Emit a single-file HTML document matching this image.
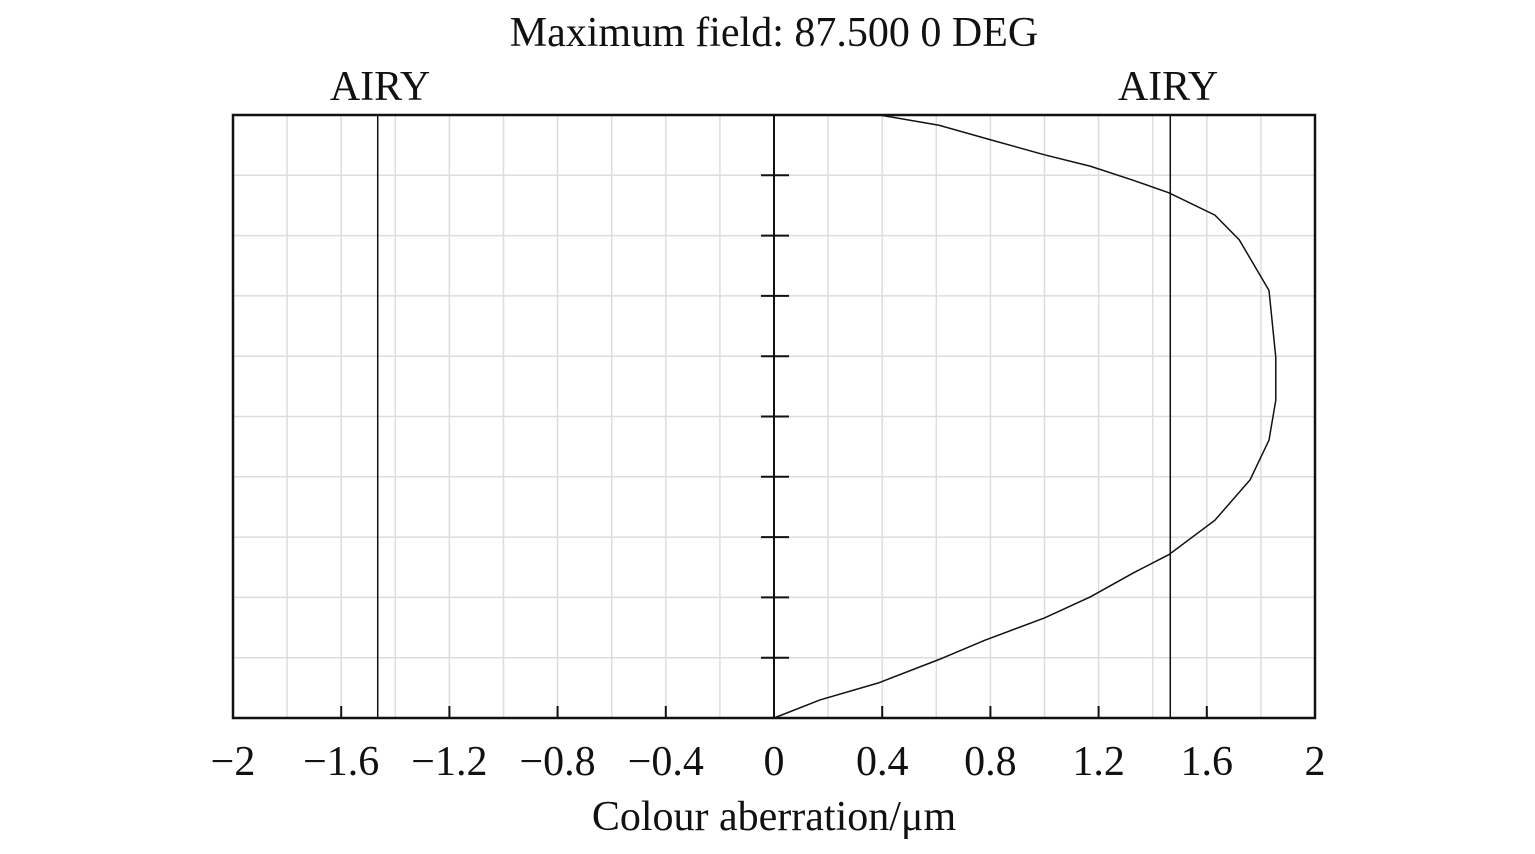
<!DOCTYPE html>
<html><head><meta charset="utf-8"><style>
body{margin:0;background:#fff;}
svg text{font-family:"Liberation Serif",serif;fill:#111;}
</style></head><body>
<svg width="1535" height="849">
<text x="774" y="46" font-size="42" text-anchor="middle">Maximum field: 87.500 0 DEG</text>
<text x="380" y="100" font-size="42" text-anchor="middle">AIRY</text>
<text x="1168" y="100" font-size="42" text-anchor="middle">AIRY</text>
<g id="grid"></g>
<g id="marks"></g>
<rect x="233" y="115" width="1082" height="603" fill="none" stroke="#111" stroke-width="2.5"/>
<g id="ticks"></g>
<text x="774" y="830" font-size="42" text-anchor="middle">Colour aberration/μm</text>
</svg>
<script>
const xTicks=[-2,-1.6,-1.2,-0.8,-0.4,0,0.4,0.8,1.2,1.6,2];
const xTickLabels=["−2","−1.6","−1.2","−0.8","−0.4","0","0.4","0.8","1.2","1.6","2"];
const airy=1.465;
const fieldFrac=[0,0.03,0.058,0.097,0.129,0.166,0.201,0.241,0.271,0.328,0.395,0.461,0.527,0.598,0.709,0.793,0.834,0.871,0.893,0.915,0.934,0.959,0.983,1.0];
const aberration=[0,0.17,0.385,0.61,0.78,1.0,1.17,1.33,1.46,1.63,1.76,1.83,1.855,1.855,1.83,1.72,1.63,1.46,1.32,1.17,1.0,0.8,0.61,0.39];
const X0=233,X1=1315,Y0=718,Y1=115;
const sx=v=>X0+(v+2)/4*(X1-X0);
const sy=f=>Y0-f*(Y0-Y1);
const NS="http://www.w3.org/2000/svg";
function mk(tag,attrs,parent){const e=document.createElementNS(NS,tag);for(const k in attrs)e.setAttribute(k,attrs[k]);document.getElementById(parent).appendChild(e);return e;}
for(let i=1;i<20;i++){const v=-2+i*0.2;const l=mk('line',{x1:sx(v),x2:sx(v),y1:Y1,y2:Y0,stroke:'#ddd','stroke-width':1.5},'grid');

}
for(let i=1;i<10;i++){const l=mk('line',{x1:X0,x2:X1,y1:sy(i/10),y2:sy(i/10),stroke:'#ddd','stroke-width':1.5},'grid');

}
const ax=mk('line',{x1:sx(0),x2:sx(0),y1:Y1,y2:Y0,stroke:'#111','stroke-width':2},'marks');


for(let i=1;i<10;i++){const t=mk('line',{x1:sx(0)-13,x2:sx(0)+15,y1:sy(i/10),y2:sy(i/10),stroke:'#111','stroke-width':2},'marks');

}
[-airy,airy].forEach(a=>{const l=mk('line',{x1:sx(a),x2:sx(a),y1:Y1,y2:Y0,stroke:'#111','stroke-width':1.5},'marks');

});
const p=mk('polyline',{points:fieldFrac.map((f,i)=>sx(aberration[i])+','+sy(f)).join(' '),fill:'none',stroke:'#111','stroke-width':1.5},'marks');


xTicks.forEach((v,i)=>{
 if(i>0&&i<xTicks.length-1){const t=mk('line',{x1:sx(v),x2:sx(v),y1:Y0,y2:Y0-12,stroke:'#111','stroke-width':2},'ticks');
 
 }
 const tx=mk('text',{x:sx(v),y:775,'font-size':42,'text-anchor':'middle'},'ticks');tx.textContent=xTickLabels[i];
 
 
});
</script>
</body></html>
